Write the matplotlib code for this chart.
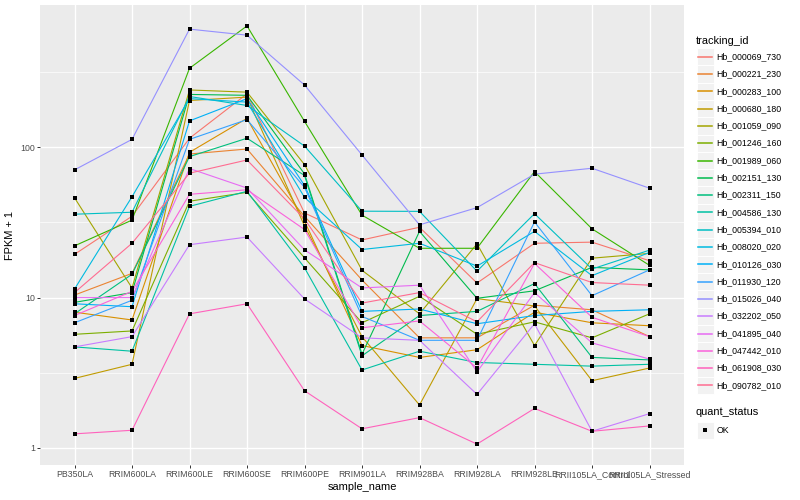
import numpy as np
import matplotlib
matplotlib.use('Agg')
import matplotlib.pyplot as plt
from matplotlib.patches import Rectangle

plt.rcParams['font.family'] = ['Liberation Sans', 'DejaVu Sans']

samples = ['PB350LA', 'RRIM600LA', 'RRIM600LE', 'RRIM600SE', 'RRIM600PE',
           'RRIM901LA', 'RRIM928BA', 'RRIM928LA', 'RRIM928LE',
           'RRII105LA_Control', 'RRII105LA_Stressed']

tracking_ids = ['Hb_000069_730', 'Hb_000221_230', 'Hb_000283_100', 'Hb_000680_180',
                'Hb_001059_090', 'Hb_001246_160', 'Hb_001989_060', 'Hb_002151_130',
                'Hb_002311_150', 'Hb_004586_130', 'Hb_005394_010', 'Hb_008020_020',
                'Hb_010126_030', 'Hb_011930_120', 'Hb_015026_040', 'Hb_032202_050',
                'Hb_041895_040', 'Hb_047442_010', 'Hb_061908_030', 'Hb_090782_010']

# FPKM + 1, one row per gene
Hb_000069_730 = [19.4, 34.8, 115, 227, 36.6, 24.2, 29.4, 12.5, 23, 23.4, 17.6]
Hb_000221_230 = [10.4, 14.5, 90.3, 97.5, 34.8, 13.1, 5.4, 5.4, 8.9, 8.3, 5.5]
Hb_000283_100 = [8.0, 7.1, 92.7, 156, 32.3, 4.8, 4.0, 4.5, 8.0, 6.8, 6.5]
Hb_000680_180 = [2.9, 3.6, 205, 216, 30, 5.5, 1.93, 9.85, 8.8, 2.8, 3.4]
Hb_001059_090 = [46.2, 11.6, 241, 233, 76.8, 15.2, 7.8, 22.8, 4.8, 18.3, 19.7]
Hb_001246_160 = [5.7, 6.0, 43.8, 50.2, 18.4, 6.8, 10.2, 5.7, 6.9, 5.4, 7.8]
Hb_001989_060 = [22.1, 32.8, 336, 643, 149, 35.4, 21.3, 21.3, 69, 28.7, 16.4]
Hb_002151_130 = [9.3, 10.8, 225, 222, 66.6, 4.2, 27.6, 9.9, 11.1, 15.9, 15.3]
Hb_002311_150 = [7.8, 14.3, 86.8, 115, 65, 4.1, 7.6, 8.1, 12.4, 4.0, 3.85]
Hb_004586_130 = [4.7, 4.4, 40.5, 51, 15.8, 3.3, 4.4, 3.7, 3.6, 3.5, 3.6]
Hb_005394_010 = [35.9, 37, 218, 190, 102, 37.6, 37.5, 15.0, 36.2, 15.5, 20.7]
Hb_008020_020 = [11.4, 46.9, 211, 200, 46.5, 20.9, 23, 16.2, 27.6, 14.0, 20.0]
Hb_010126_030 = [9.1, 8.7, 150, 211, 55.8, 8.1, 8.4, 6.7, 7.6, 8.1, 8.3]
Hb_011930_120 = [6.8, 9.6, 113, 153, 54.2, 7.5, 5.2, 5.2, 31.9, 10.3, 15.3]
Hb_015026_040 = [70.8, 113, 612, 558, 260, 89, 30.5, 39.7, 66.3, 72.6, 53.5]
Hb_032202_050 = [4.7, 5.5, 22.5, 25.3, 9.8, 5.4, 5.2, 2.27, 6.7, 1.29, 1.69]
Hb_041895_040 = [10.0, 10.0, 72.3, 53.6, 20.8, 11.6, 12.1, 3.2, 10.8, 5.0, 3.9]
Hb_047442_010 = [7.6, 11.0, 48.7, 52.2, 28.4, 6.3, 7.0, 3.4, 16.9, 7.4, 5.5]
Hb_061908_030 = [1.24, 1.31, 7.8, 9.1, 2.4, 1.34, 1.59, 1.06, 1.83, 1.29, 1.40]
Hb_090782_010 = [10.8, 23, 67.3, 82.4, 33.4, 9.2, 10.8, 6.9, 17.1, 12.6, 12.1]

series = [Hb_000069_730, Hb_000221_230, Hb_000283_100, Hb_000680_180, Hb_001059_090,
          Hb_001246_160, Hb_001989_060, Hb_002151_130, Hb_002311_150, Hb_004586_130,
          Hb_005394_010, Hb_008020_020, Hb_010126_030, Hb_011930_120, Hb_015026_040,
          Hb_032202_050, Hb_041895_040, Hb_047442_010, Hb_061908_030, Hb_090782_010]

# ggplot2 hue palette for 20 levels
colors = ['#F8766D', '#EA8331', '#D89000', '#C09B00', '#A3A500', '#7CAE00', '#39B600',
          '#00BB4E', '#00BF7D', '#00C1A3', '#00BFC4', '#00BAE0', '#00B0F6', '#35A2FF',
          '#9590FF', '#C77CFF', '#E76BF3', '#FA62DB', '#FF62BC', '#FF6C91']

fig = plt.figure(figsize=(8, 5), dpi=100)
ax = fig.add_axes([40 / 800, 35 / 500, 644 / 800, 460 / 500])
ax.set_facecolor('#EBEBEB')

x = np.arange(len(samples))
for vals, col in zip(series, colors):
    ax.plot(x, vals, color=col, lw=0.8, zorder=3)
for vals in series:
    ax.plot(x, vals, ls='none', marker='s', ms=3.0, mew=0, color='black', zorder=4)

ax.set_yscale('log')
allv = np.log10(np.concatenate([np.array(s) for s in series]))
lo, hi = allv.min(), allv.max()
pad = (hi - lo) * 0.05
ax.set_ylim(10 ** (lo - pad), 10 ** (hi + pad))
ax.set_xlim(-0.6, len(samples) - 0.4)

ax.yaxis.set_major_locator(matplotlib.ticker.FixedLocator([1, 10, 100]))
ax.yaxis.set_major_formatter(matplotlib.ticker.FixedFormatter(['1', '10', '100']))
ax.yaxis.set_minor_locator(matplotlib.ticker.FixedLocator([10 ** 0.5, 10 ** 1.5, 10 ** 2.5]))
ax.yaxis.set_minor_formatter(matplotlib.ticker.NullFormatter())
ax.set_xticks(x)
ax.set_xticklabels(samples)

ax.grid(True, which='major', color='white', lw=1.0, zorder=0)
ax.grid(True, which='minor', axis='y', color='white', lw=0.5, zorder=0)
ax.set_axisbelow(True)
for sp in ax.spines.values():
    sp.set_visible(False)
ax.tick_params(axis='both', which='major', length=2, width=0.7, color='#333333',
               labelsize=6.3, labelcolor='#4D4D4D', pad=1.5)
ax.tick_params(axis='y', which='minor', length=0)

ax.set_xlabel('sample_name', fontsize=7.9, labelpad=2)
ax.set_ylabel('FPKM + 1', fontsize=7.9, labelpad=4)

# legend drawn in pixel coordinates, ggplot style
leg = fig.add_axes([0, 0, 1, 1], facecolor='none')
leg.set_xlim(0, 800)
leg.set_ylim(500, 0)
leg.axis('off')
leg.text(696, 40.5, 'tracking_id', fontsize=7.9, va='center', ha='left')
for i, (name, col) in enumerate(zip(tracking_ids, colors)):
    yc = 56.7 + 17.3 * i
    leg.add_patch(Rectangle((696.5, yc - 8.65), 17.3, 17.3, facecolor='#F2F2F2',
                            edgecolor='white', lw=0.7, zorder=1))
    leg.plot([698.2, 712.1], [yc, yc], color=col, lw=1.1, zorder=2)
    leg.text(716.5, yc, name, fontsize=6.3, va='center', ha='left')

leg.text(696, 412, 'quant_status', fontsize=7.9, va='center', ha='left')
leg.add_patch(Rectangle((696.5, 421.5), 17.3, 17.3, facecolor='#F2F2F2',
                        edgecolor='white', lw=0.7, zorder=1))
leg.plot([705.1], [430.1], marker='s', ms=3.0, mew=0, color='black', zorder=2)
leg.text(716.5, 430.1, 'OK', fontsize=6.3, va='center', ha='left')

fig.savefig('out.png', dpi=100)
